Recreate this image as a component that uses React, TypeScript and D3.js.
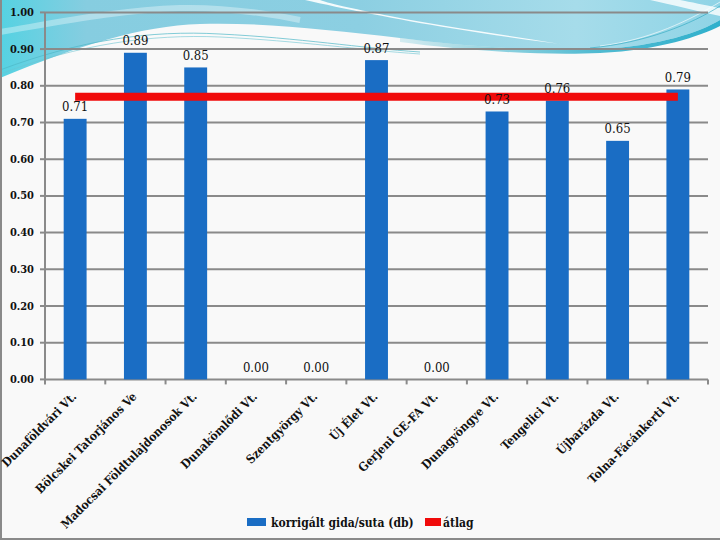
import React from "react";
import * as d3 from "d3";

const categories = [
  "Dunaföldvári Vt.",
  "Bölcskei Tatorjános Ve",
  "Madocsai Földtulajdonosok Vt.",
  "Dunakömlődi Vt.",
  "Szentgyörgy Vt.",
  "Új Élet Vt.",
  "Gerjeni GE-FA Vt.",
  "Dunagyöngye Vt.",
  "Tengelici Vt.",
  "Újbarázda Vt.",
  "Tolna-Fácánkerti Vt.",
];
const barValues = [0.71, 0.89, 0.85, 0.0, 0.0, 0.87, 0.0, 0.73, 0.76, 0.65, 0.79];
const avgValues = [0.77, 0.77, 0.77, 0.77, 0.77, 0.77, 0.77, 0.77, 0.77, 0.77, 0.77];
const yTicks = [0, 0.1, 0.2, 0.3, 0.4, 0.5, 0.6, 0.7, 0.8, 0.9, 1.0];
const seriesNames = ["korrigált gida/suta (db)", "átlag"];

const W = 720;
const H = 540;
const left = 45;
const right = 708;
const top = 12.4;
const bottom = 379.4;

const serif = "DejaVu Serif Condensed, DejaVu Serif, serif";

export default function App() {
  const x = d3.scaleBand<string>().domain(categories).range([left, right]).padding(0);
  const y = d3.scaleLinear().domain([0, 1]).range([bottom, top]);
  const bw = x.bandwidth() * 0.38;
  const cx = (c: string) => (x(c) as number) + x.bandwidth() / 2;

  const avgLine = d3
    .line<number>()
    .x((_, i) => cx(categories[i]))
    .y((d) => y(d));

  const txt = (size: number, bold: boolean) => ({
    fontFamily: serif,
    fontSize: size + "px",
    fontWeight: bold ? 700 : 400,
  });

  return (
    <svg
      width={W}
      height={H}
      style={{ position: "absolute", left: 0, top: 0, display: "block" }}
    >
      <defs>
        <linearGradient id="band" x1="0" y1="0" x2="1" y2="0">
          <stop offset="0" stopColor="#55d2e2" />
          <stop offset="0.12" stopColor="#86cde0" />
          <stop offset="0.5" stopColor="#8ccfe2" />
          <stop offset="0.8" stopColor="#a6dcea" />
          <stop offset="1" stopColor="#8fd4e6" />
        </linearGradient>
        <linearGradient id="streak" x1="0" y1="0" x2="1" y2="0">
          <stop offset="0" stopColor="#3fb4cd" stopOpacity="0.2" />
          <stop offset="0.6" stopColor="#3fb4cd" stopOpacity="0.9" />
          <stop offset="1" stopColor="#2fb0cc" stopOpacity="1" />
        </linearGradient>
      </defs>
      <rect x={0} y={0} width={W} height={H} fill="#f9f9f9" />
      <path
        d="M0,0 L720,0 L720,20 C700,32 660,46 600,49 C540,52 460,46 400,38 C330,30 260,22 200,24 C140,26 80,45 0,78 Z"
        fill="url(#band)"
      />
      <path
        d="M720,20 C700,32 660,46 600,49 C540,52 460,46 400,38 L400,42 C460,50 540,56 600,53 C660,50 700,36 720,26 Z"
        fill="url(#streak)"
      />
      <path d="M0,70 C80,40 150,30 220,34 C300,38 360,48 420,52" fill="none" stroke="#4fb8c8" strokeWidth={1} opacity={0.7} />
      <path d="M0,74 C80,44 150,34 220,37 C300,41 360,50 420,54" fill="none" stroke="#6cc5d2" strokeWidth={1} opacity={0.6} />
      <path
        d="M305,0 C340,8 400,20 450,28 C500,36 540,42 580,46 L560,44 C500,34 440,26 390,16 C360,10 330,4 320,0 Z"
        fill="#ffffff"
        opacity={0.9}
      />
      <path d="M0,32 C60,22 120,10 180,8 C220,7 260,12 300,20" fill="none" stroke="#ffffff" strokeWidth={6} opacity={0.35} />
      <path d="M650,0 C670,4 700,12 720,16 L720,8 C705,5 690,2 680,0 Z" fill="#ffffff" opacity={0.8} />
      <path d="M600,46 C650,40 690,20 720,2" fill="none" stroke="#ffffff" strokeWidth={0.8} opacity={0.8} />
      <path d="M590,48 C645,43 692,24 720,6" fill="none" stroke="#2fa8c0" strokeWidth={0.8} opacity={0.8} />

      <line x1={1} y1={0} x2={1} y2={H} stroke="#8a8a8a" strokeWidth={2} />
      <line x1={0} y1={H - 1} x2={W} y2={H - 1} stroke="#8a8a8a" strokeWidth={2} />

      {yTicks.map((t) => (
        <line key={"g" + t} x1={left} x2={right} y1={y(t)} y2={y(t)} stroke="#8a8a8a" strokeWidth={2} />
      ))}
      <line x1={left} x2={left} y1={top} y2={bottom} stroke="#8a8a8a" strokeWidth={2} />
      {yTicks.map((t) => (
        <g key={"yt" + t}>
          <line x1={left - 5} x2={left} y1={y(t)} y2={y(t)} stroke="#8a8a8a" strokeWidth={2} />
          <text x={34} y={y(t)} dy="0.32em" textAnchor="end" style={txt(11, true)} fill="#111">
            {t.toFixed(2)}
          </text>
        </g>
      ))}
      {categories.map((c) => (
        <line key={"xt" + c} x1={x(c) as number} x2={x(c) as number} y1={bottom} y2={bottom + 5} stroke="#8a8a8a" strokeWidth={2} />
      ))}
      <line x1={right} x2={right} y1={bottom} y2={bottom + 5} stroke="#8a8a8a" strokeWidth={2} />

      {categories.map((c, i) => (
        <rect
          key={"b" + c}
          x={cx(c) - bw / 2}
          y={y(barValues[i])}
          width={bw}
          height={bottom - y(barValues[i])}
          fill="#1a6dc4"
        />
      ))}

      <path d={avgLine(avgValues) || ""} fill="none" stroke="#f00a0a" strokeWidth={8} />

      {categories.map((c, i) => (
        <text
          key={"v" + c}
          x={cx(c)}
          y={y(barValues[i]) - 12}
          dy="0.35em"
          textAnchor="middle"
          style={txt(13, false)}
          fill="#111"
        >
          {barValues[i].toFixed(2)}
        </text>
      ))}

      {categories.map((c) => (
        <text
          key={"c" + c}
          transform={`translate(${cx(c) + 2},${bottom + 18}) rotate(-45)`}
          textAnchor="end"
          style={txt(12, true)}
          fill="#111"
        >
          {c}
        </text>
      ))}

      <rect x={247} y={518} width={19} height={8} fill="#1a6dc4" />
      <text x={271} y={527} style={txt(12, true)} fill="#111">
        {seriesNames[0]}
      </text>
      <rect x={425} y={518} width={16} height={8} fill="#f00a0a" />
      <text x={443} y={527} style={txt(12, true)} fill="#111">
        {seriesNames[1]}
      </text>
    </svg>
  );
}
